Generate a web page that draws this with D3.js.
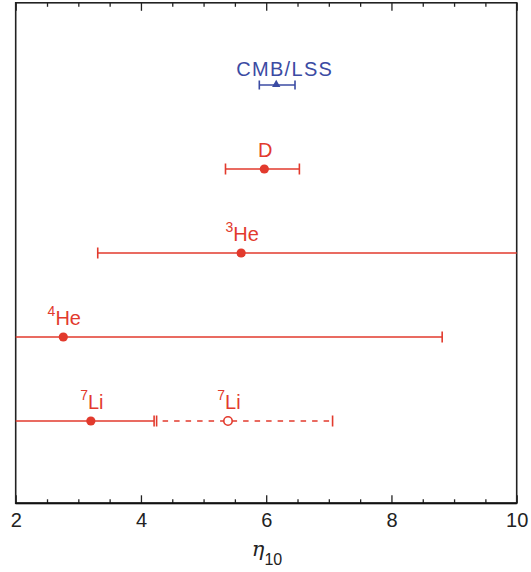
<!DOCTYPE html>
<html>
<head>
<meta charset="utf-8">
<script src="https://cdn.jsdelivr.net/npm/d3@7"></script>
<style>
  html, body { margin: 0; padding: 0; background: #fff; }
  svg { display: block; }
</style>
</head>
<body>
<svg id="chart" width="531" height="572"></svg>
<script>
// Baryon-to-photon ratio constraints (eta_10) from each probe
const labels       = ["CMB/LSS", "D", "He", "He", "Li", "Li"];
const superscripts = ["", "", "3", "4", "7", "7"];
const rows         = [1, 2, 3, 4, 5, 5];
const central      = [6.16, 5.97, 5.60, 2.76, 3.20, 5.39];
const lower        = [5.89, 5.35, 3.31, 1.50, 1.50, 4.25];
const upper        = [6.46, 6.53, 10.50, 8.81, 4.21, 7.06];
const markers      = ["triangle", "circle", "circle", "circle", "circle", "open"];
const dashed       = [false, false, false, false, false, true];
const groups       = ["cmb", "bbn", "bbn", "bbn", "bbn", "bbn"];

const xMajorTicks = [2, 4, 6, 8, 10];
const xMinorTicks = d3.range(2.5, 10, 0.5).filter(v => v % 2 !== 0);
const xDomain = [2, 10];

const palette = { cmb: "#3b4ba3", bbn: "#e23a2d" };

const svg = d3.select("#chart");
const frame = { left: 15.7, right: 516.7, top: 2.8, bottom: 503.3 };

const x = d3.scaleLinear().domain(xDomain).range([frame.left, frame.right]);
const y = d3.scaleLinear().domain([1, 5]).range([85, 421]);

const font = "'Liberation Sans', Arial, Helvetica, sans-serif";

// clip region for bars that run past the frame
svg.append("defs").append("clipPath").attr("id", "plotClip")
  .append("rect").attr("x", frame.left).attr("y", frame.top)
  .attr("width", frame.right - frame.left).attr("height", frame.bottom - frame.top);

// axes: major/minor ticks pointing inward on bottom and top
const axisG = svg.append("g").attr("class", "axes");
const bottomMajor = axisG.append("g").attr("transform", `translate(0,${frame.bottom})`)
  .call(d3.axisBottom(x).tickValues(xMajorTicks).tickSize(-8).tickPadding(9.5)
    .tickFormat(d3.format("d")));
bottomMajor.selectAll("text").attr("font-family", font).attr("font-size", 20).attr("fill", "#222");
axisG.append("g").attr("transform", `translate(0,${frame.bottom})`)
  .call(d3.axisBottom(x).tickValues(xMinorTicks).tickSize(-4).tickFormat(""));
axisG.append("g").attr("transform", `translate(0,${frame.top})`)
  .call(d3.axisTop(x).tickValues(xMajorTicks).tickSize(-8).tickFormat(""));
axisG.append("g").attr("transform", `translate(0,${frame.top})`)
  .call(d3.axisTop(x).tickValues(xMinorTicks).tickSize(-4).tickFormat(""));
axisG.selectAll(".domain").remove();
axisG.selectAll(".tick line").attr("stroke", "#222").attr("stroke-width", 1.3);

// frame
svg.append("rect")
  .attr("x", frame.left).attr("y", frame.top)
  .attr("width", frame.right - frame.left).attr("height", frame.bottom - frame.top)
  .attr("fill", "none").attr("stroke", "#222").attr("stroke-width", 1.6);
svg.append("line")
  .attr("x1", frame.left).attr("x2", frame.right).attr("y1", frame.bottom).attr("y2", frame.bottom)
  .attr("stroke", "#111").attr("stroke-width", 2);

// x axis title: eta_10
const title = svg.append("text")
  .attr("x", 267).attr("y", 556).attr("text-anchor", "middle")
  .attr("fill", "#222");
title.append("tspan").text("η")
  .attr("font-family", "'DejaVu Serif', 'Liberation Serif', serif")
  .attr("font-style", "italic").attr("font-size", 21);
title.append("tspan").text("10").attr("font-family", font)
  .attr("font-size", 16).attr("dy", 9);

// error bars
const data = central.map((c, i) => ({
  label: labels[i], sup: superscripts[i], row: rows[i], c, lo: lower[i], hi: upper[i],
  marker: markers[i], dashed: dashed[i], color: palette[groups[i]]
}));

const bars = svg.append("g").attr("clip-path", "url(#plotClip)");
data.forEach(d => {
  const yy = y(d.row);
  const capH = d.marker === "triangle" ? 4.5 : 5.5;
  const g = bars.append("g");
  g.append("line")
    .attr("x1", x(d.lo)).attr("x2", x(d.hi)).attr("y1", yy).attr("y2", yy)
    .attr("stroke", d.color).attr("stroke-width", 1.6)
    .attr("stroke-dasharray", d.dashed ? "5.5,6" : null)
    .attr("stroke-dashoffset", d.dashed ? -6 : null);
  [d.lo, d.hi].forEach(v => {
    if (v >= xDomain[0] && v <= xDomain[1]) {
      g.append("line")
        .attr("x1", x(v)).attr("x2", x(v)).attr("y1", yy - capH).attr("y2", yy + capH)
        .attr("stroke", d.color).attr("stroke-width", 1.6);
    }
  });
  if (d.marker === "triangle") {
    g.append("path")
      .attr("d", d3.symbol(d3.symbolTriangle, 30)())
      .attr("transform", `translate(${x(d.c)},${yy - 0.5})`)
      .attr("fill", d.color);
  } else if (d.marker === "circle") {
    g.append("circle").attr("cx", x(d.c)).attr("cy", yy).attr("r", 4.6).attr("fill", d.color);
  } else {
    g.append("circle").attr("cx", x(d.c)).attr("cy", yy).attr("r", 4.2)
      .attr("fill", "#fff").attr("stroke", d.color).attr("stroke-width", 1.6);
  }
});

// species labels above each point
data.forEach(d => {
  const yy = y(d.row);
  const isCmb = d.marker === "triangle";
  const t = svg.append("text")
    .attr("x", x(d.c) + (isCmb ? 8.5 : 1)).attr("y", yy - (isCmb ? 9 : 12))
    .attr("text-anchor", "middle").attr("fill", d.color)
    .attr("font-family", font).attr("font-size", 20)
    .attr("letter-spacing", isCmb ? 1.3 : 0);
  if (d.sup) {
    t.append("tspan").text(d.sup).attr("font-size", 14).attr("dy", -9);
    t.append("tspan").text(d.label).attr("dy", 9);
  } else {
    t.text(d.label);
  }
});
</script>
</body>
</html>
